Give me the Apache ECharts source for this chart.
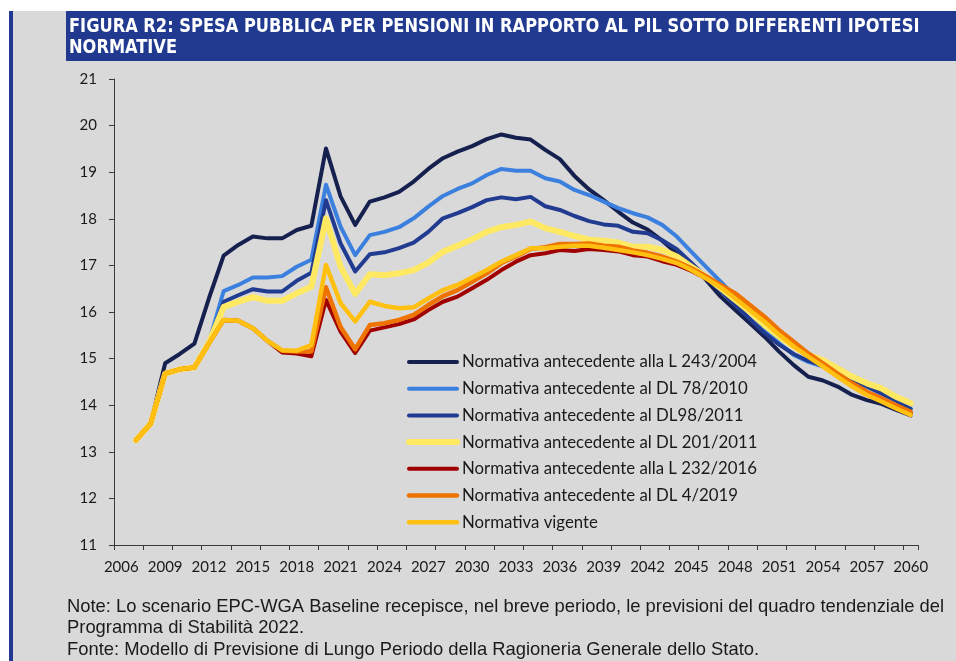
<!DOCTYPE html>
<html>
<head>
<meta charset="utf-8">
<script src="https://cdn.jsdelivr.net/npm/echarts@6/dist/echarts.min.js"></script>
<style>
  html, body { margin: 0; padding: 0; background: #fff; }
  #chart { width: 956px; height: 661px; }
</style>
</head>
<body>
<div id="chart"></div>
<script>
// anni 2006-2060 (2006 senza dato)
const years = []
for (let y = 2006; y <= 2060; y++) years.push(String(y))

const yTicks = { min: 11, max: 21, step: 1 }

// L 243/2004
const antL2432004 = [
  null, 13.25, 13.6, 14.9,
  15.1, 15.32, 16.3, 17.21, 17.44, 17.62, 17.58, 17.58, 17.76, 17.85,
  19.51, 18.48, 17.87, 18.37, 18.46, 18.58, 18.8, 19.07, 19.3, 19.44,
  19.56, 19.71, 19.81, 19.74, 19.7, 19.48, 19.28, 18.92, 18.63, 18.4,
  18.15, 17.92, 17.77, 17.53, 17.26, 17.01, 16.69, 16.33, 16.04, 15.76,
  15.47, 15.15, 14.86, 14.61, 14.53, 14.4, 14.22, 14.11, 14.03, 13.9,
  13.78
]
// DL 78/2010
const antDL782010 = [
  null, 13.25, 13.6, 14.68,
  14.77, 14.81, 15.35, 16.45, 16.58, 16.74, 16.74, 16.77, 16.97, 17.12,
  18.73, 17.83, 17.22, 17.65, 17.72, 17.82, 18.01, 18.26, 18.49, 18.64,
  18.76, 18.94, 19.07, 19.03, 19.03, 18.87, 18.8, 18.62, 18.51, 18.37,
  18.23, 18.12, 18.03, 17.87, 17.62, 17.29, 16.97, 16.65, 16.33, 16.01,
  15.65, 15.33, 15.08, 14.93, 14.83, 14.72, 14.55, 14.4, 14.25, 14.1,
  13.93
]
// DL 98/2011
const antDL982011 = [
  null, 13.25, 13.6, 14.68,
  14.77, 14.81, 15.35, 16.22, 16.36, 16.49, 16.44, 16.44, 16.67, 16.84,
  18.4, 17.47, 16.87, 17.24, 17.28, 17.37, 17.49, 17.72, 18.01, 18.12,
  18.25, 18.4, 18.46, 18.42, 18.47, 18.27, 18.19, 18.06, 17.95, 17.88,
  17.85, 17.72, 17.69, 17.54, 17.35, 17.05, 16.75, 16.45, 16.15, 15.85,
  15.55, 15.3, 15.1, 14.95, 14.85, 14.73, 14.55, 14.4, 14.25, 14.1,
  13.92
]
// DL 201/2011
const antDL2012011 = [
  null, 13.25, 13.6, 14.68,
  14.77, 14.81, 15.35, 16.11, 16.22, 16.32, 16.24, 16.24, 16.4, 16.54,
  18.01, 16.97, 16.39, 16.81, 16.79, 16.83, 16.9, 17.06, 17.29, 17.42,
  17.56, 17.72, 17.82, 17.87, 17.94, 17.8, 17.72, 17.63, 17.55, 17.53,
  17.49, 17.4, 17.4, 17.33, 17.19, 16.97, 16.76, 16.51, 16.26, 16.01,
  15.72, 15.47, 15.26, 15.08, 14.97, 14.79, 14.61, 14.47, 14.36, 14.18,
  14.04
]
// L 232/2016
const antL2322016 = [
  null, 13.25, 13.6, 14.68,
  14.77, 14.81, 15.33, 15.83, 15.81, 15.65, 15.38, 15.13, 15.11, 15.05,
  16.26, 15.58, 15.12, 15.6, 15.67, 15.74, 15.84, 16.04, 16.22, 16.33,
  16.51, 16.69, 16.9, 17.08, 17.22, 17.26, 17.33, 17.31, 17.35, 17.33,
  17.3, 17.22, 17.19, 17.09, 17.01, 16.88, 16.72, 16.55, 16.37, 16.12,
  15.88, 15.6, 15.35, 15.1, 14.88, 14.66, 14.45, 14.27, 14.13, 13.98,
  13.83
]
// DL 4/2019
const antDL42019 = [
  null, 13.25, 13.6, 14.68,
  14.77, 14.81, 15.33, 15.83, 15.81, 15.65, 15.38, 15.17, 15.15, 15.15,
  16.53, 15.68, 15.2, 15.72, 15.76, 15.83, 15.94, 16.15, 16.34, 16.47,
  16.65, 16.83, 17.05, 17.19, 17.35, 17.39, 17.46, 17.46, 17.47, 17.42,
  17.4, 17.32, 17.27, 17.19, 17.08, 16.94, 16.77, 16.58, 16.4, 16.15,
  15.9, 15.61, 15.36, 15.11, 14.9, 14.68, 14.47, 14.29, 14.15, 14.0,
  13.86
]
// normativa vigente
const vigente = [
  null, 13.25, 13.6, 14.68,
  14.77, 14.81, 15.33, 15.83, 15.81, 15.65, 15.38, 15.18, 15.17, 15.29,
  17.01, 16.19, 15.8, 16.22, 16.13, 16.08, 16.1, 16.29, 16.47, 16.58,
  16.74, 16.9, 17.08, 17.22, 17.37, 17.37, 17.4, 17.42, 17.42, 17.38,
  17.33, 17.28, 17.22, 17.14, 17.05, 16.9, 16.72, 16.53, 16.29, 16.04,
  15.79, 15.51, 15.26, 15.04, 14.83, 14.61, 14.4, 14.22, 14.08, 13.93,
  13.79
]

const seriesDefs = [
  { name: 'Normativa antecedente alla L 243/2004', data: antL2432004, color: '#15204f', width: 4 },
  { name: 'Normativa antecedente al DL 78/2010', data: antDL782010, color: '#3b80de', width: 4 },
  { name: 'Normativa antecedente al DL98/2011', data: antDL982011, color: '#213b90', width: 4 },
  { name: 'Normativa antecedente al DL 201/2011', data: antDL2012011, color: '#ffe963', width: 6 },
  { name: 'Normativa antecedente alla L 232/2016', data: antL2322016, color: '#a00000', width: 4 },
  { name: 'Normativa antecedente al DL 4/2019', data: antDL42019, color: '#ee7300', width: 4.5 },
  { name: 'Normativa vigente', data: vigente, color: '#ffc012', width: 4.5 }
]

const labelFont = 'Lato, "DejaVu Sans", sans-serif'
const blue = '#213a8f'

const chart = echarts.init(document.getElementById('chart'))

chart.setOption({
  backgroundColor: '#ffffff',
  animation: false,
  graphic: [
    { type: 'rect', z: -10, shape: { x: 13, y: 11, width: 943, height: 650 }, style: { fill: '#d9d9d9' } },
    { type: 'rect', z: -9, shape: { x: 9, y: 11, width: 4, height: 650 }, style: { fill: blue } },
    { type: 'rect', z: -9, shape: { x: 66, y: 11, width: 890, height: 50 }, style: { fill: blue } },
    {
      type: 'text', x: 69, y: 17, scaleX: 0.95,
      style: {
        text: 'FIGURA R2: SPESA PUBBLICA PER PENSIONI IN RAPPORTO AL PIL SOTTO DIFFERENTI IPOTESI\nNORMATIVE',
        fill: '#fff',
        font: 'bold 19px "Liberation Sans Narrow", "DejaVu Sans Condensed", sans-serif',
        lineHeight: 21
      }
    },
    {
      type: 'text', left: 67, top: 596,
      style: {
        text: 'Note: Lo scenario EPC-WGA Baseline recepisce, nel breve periodo, le previsioni del quadro tendenziale del\nProgramma di Stabilità 2022.\nFonte: Modello di Previsione di Lungo Periodo della Ragioneria Generale dello Stato.',
        fill: '#1a1a1a',
        font: '18.4px "Liberation Sans", Arial, sans-serif',
        lineHeight: 21.5
      }
    }
  ],
  legend: {
    orient: 'vertical',
    left: 406,
    top: 352,
    padding: 0,
    itemWidth: 48,
    itemHeight: 14,
    itemGap: 6.7,
    itemStyle: { opacity: 0 },
    textStyle: { fontFamily: labelFont, fontSize: 16.8, color: '#1a1a1a', lineHeight: 20 },
    data: seriesDefs.map(s => ({
      name: s.name,
      lineStyle: { width: s.width, cap: 'round' }
    }))
  },
  grid: { left: 114, right: 38, top: 79, bottom: 116, containLabel: false },
  xAxis: {
    type: 'category',
    data: years,
    boundaryGap: true,
    axisLine: { lineStyle: { color: '#3a3a3a', width: 1 } },
    axisTick: { show: true, interval: 1, length: 5, lineStyle: { color: '#3a3a3a' } },
    axisLabel: { interval: 2, margin: 15, fontFamily: labelFont, fontSize: 15, color: '#1a1a1a' },
    splitLine: { show: false }
  },
  yAxis: {
    type: 'value',
    min: yTicks.min,
    max: yTicks.max,
    interval: yTicks.step,
    axisLine: { show: true, lineStyle: { color: '#3a3a3a', width: 1 } },
    axisTick: { show: true, length: 5, lineStyle: { color: '#3a3a3a' } },
    axisLabel: { margin: 17, fontFamily: labelFont, fontSize: 15, color: '#1a1a1a' },
    splitLine: { show: false }
  },
  series: seriesDefs.map(s => ({
    name: s.name,
    type: 'line',
    data: s.data,
    showSymbol: false,
    symbol: 'none',
    color: s.color,
    lineStyle: { color: s.color, width: s.width, cap: 'round', join: 'round' }
  }))
})
</script>
</body>
</html>
